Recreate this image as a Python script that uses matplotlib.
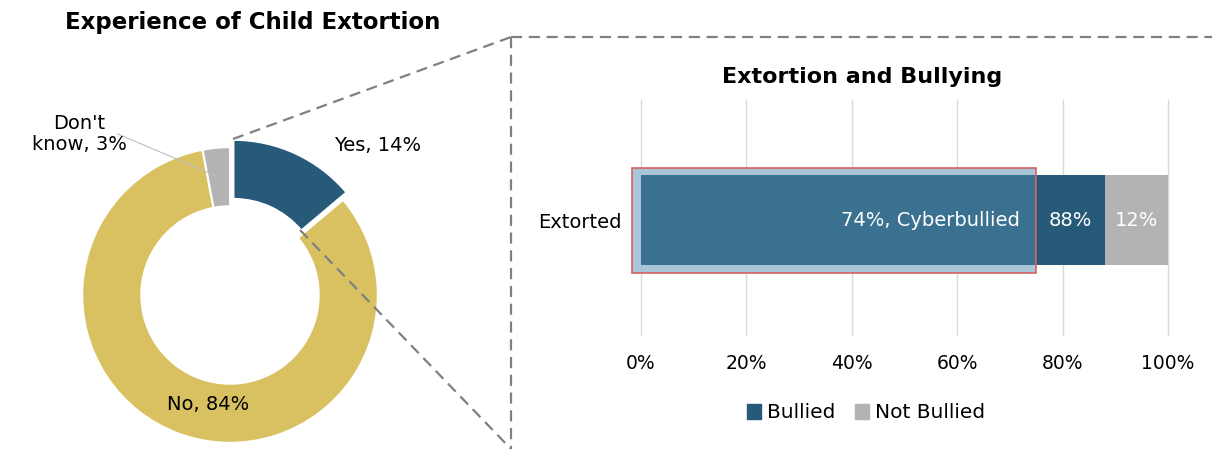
import matplotlib
matplotlib.use("Agg")
import matplotlib.pyplot as plt
from matplotlib.lines import Line2D
from matplotlib.patches import Rectangle, Patch

# ------------------------------------------------------------------
# Dados
# ------------------------------------------------------------------
donut_labels = ["Yes", "No", "Don't know"]
donut_values = [14, 84, 3]

bar_category = ["Extorted"]
bullied = [88]
not_bullied = [12]
cyberbullied = [74]
x_ticks = [0, 20, 40, 60, 80, 100]

# cores
AZUL = "#265A78"
OURO = "#D9C162"
CINZA = "#B3B3B3"
AZUL_MEDIO = "#3A7191"
AZUL_CLARO = "#A4C3D6"

plt.rcParams["font.family"] = "DejaVu Sans"

W, H = 1212, 449
fig = plt.figure(figsize=(W / 100, H / 100), dpi=100)

def fx(px):
    return px / W

def fy(py):
    return 1 - py / H

# ------------------------------------------------------------------
# Donut
# ------------------------------------------------------------------
cx, cy, half = 230, 295, 170
ax1 = fig.add_axes([fx(cx - half), fy(cy + half), 2 * half / W, 2 * half / H])
ax1.pie(donut_values, colors=[AZUL, OURO, CINZA], startangle=90,
        counterclock=False, radius=1, explode=[0.055, 0, 0],
        wedgeprops=dict(width=0.4, edgecolor="white", linewidth=1.5))
ax1.set_xlim(-1.15, 1.15)
ax1.set_ylim(-1.15, 1.15)
ax1.set_aspect("auto")
ax1.axis("off")

ax1.text(1.0, 1.01, f"{donut_labels[0]}, {donut_values[0]}%",
         ha="center", va="center", fontsize=14)
ax1.text(-1.02, 1.09, f"Don't\nknow, {donut_values[2]}%",
         ha="center", va="center", fontsize=14, linespacing=1.1)
ax1.plot([-0.76, -0.08], [1.09, 0.80], color="#BFBFBF", lw=0.8)
ax1.text(-0.15, -0.74, f"{donut_labels[1]}, {donut_values[1]}%",
         ha="center", va="center", fontsize=14)

fig.text(fx(253), fy(22), "Experience of Child Extortion",
         ha="center", va="center", fontsize=16.5, fontweight="bold")

# ------------------------------------------------------------------
# Linhas tracejadas (zoom)
# ------------------------------------------------------------------
dash = dict(color="#808080", lw=1.6, ls=(0, (5, 3)))
for (x0, y0), (x1, y1) in [((233, 139), (511, 37)),
                           ((300, 230), (511, 449)),
                           ((511, 37), (511, 449)),
                           ((511, 37), (1212, 37))]:
    fig.add_artist(Line2D([fx(x0), fx(x1)], [fy(y0), fy(y1)],
                          transform=fig.transFigure, **dash))

# ------------------------------------------------------------------
# Barra empilhada
# ------------------------------------------------------------------
left, right, top, bottom = 641, 1168, 100, 335
ax2 = fig.add_axes([fx(left), fy(bottom), (right - left) / W, (bottom - top) / H])
bh = 0.785
ax2.barh(bar_category, bullied, height=bh, color=AZUL, zorder=2)
ax2.barh(bar_category, not_bullied, left=bullied, height=bh, color=CINZA, zorder=2)

# destaque: cyberbullied
c = cyberbullied[0]
ax2.add_patch(Rectangle((-1.7, -0.458), c + 1.7 + 1.0, 0.916, facecolor=AZUL_CLARO,
                        alpha=0.95, edgecolor="#D9595B", lw=1.2, zorder=3,
                        clip_on=False))
ax2.add_patch(Rectangle((0, -bh / 2), c + 0.8, bh, facecolor=AZUL_MEDIO,
                        edgecolor="none", zorder=4, clip_on=False))
ax2.text(c - 2.2, 0, f"{c}%, Cyberbullied", color="white", ha="right",
         va="center", fontsize=14, zorder=5)
ax2.text(c + 1 + (bullied[0] - c - 1) / 2, 0, f"{bullied[0]}%", color="white",
         ha="center", va="center", fontsize=14, zorder=5)
ax2.text(bullied[0] + not_bullied[0] / 2, 0, f"{not_bullied[0]}%", color="white",
         ha="center", va="center", fontsize=14, zorder=5)

ax2.set_xlim(0, 100)
ax2.set_ylim(-1.0, 1.05)
ax2.set_xticks(x_ticks)
ax2.set_xticklabels([f"{t}%" for t in x_ticks], fontsize=13.5)
ax2.tick_params(axis="x", length=0, pad=14)
ax2.tick_params(axis="y", length=0, pad=14, labelsize=14)
ax2.grid(axis="x", color="#D9D9D9", lw=1, zorder=0)
for g in ax2.get_xgridlines():
    g.set_clip_on(False)
for s in ax2.spines.values():
    s.set_visible(False)

fig.text(fx(862), fy(77), "Extortion and Bullying", ha="center", va="center",
         fontsize=16, fontweight="bold")

handles = [Patch(color=AZUL, label="Bullied"), Patch(color=CINZA, label="Not Bullied")]
fig.legend(handles=handles, loc="center", bbox_to_anchor=(fx(866), fy(413)),
           ncol=2, frameon=False, fontsize=14.5, handlelength=0.7, handleheight=0.7,
           handletextpad=0.3, columnspacing=1.0)

plt.savefig("out.png", dpi=100)
